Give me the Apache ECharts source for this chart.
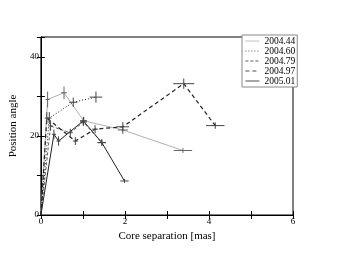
<!DOCTYPE html>
<html><head><meta charset="utf-8">
<script src="https://cdn.jsdelivr.net/npm/echarts@6/dist/echarts.min.js"></script>
<style>html,body{margin:0;padding:0;background:#fff}#c{width:339px;height:262px}</style>
</head><body><div id="c"></div>
<script>
// each point: [core separation, position angle, x error, y error]
const seriesNames = ['2004.44','2004.60','2004.79','2004.97','2005.01'];
const s200444 = [[0,0,0,0],[0.16,29.2,0.05,2.0],[0.55,30.9,0.07,1.6],[1.02,23.8,0.08,1.0],[1.95,21.5,0.12,1.0],[3.38,16.3,0.22,0.6]];
const s200460 = [[0,0,0,0],[0.20,24.5,0.05,1.5],[0.77,28.5,0.1,1.2],[1.31,29.8,0.15,1.4]];
const s200479 = [[0,0,0,0],[0.23,22.5,0.05,1.2],[0.70,20.8,0.06,1.0],[1.01,23.5,0.08,1.0],[1.45,18.3,0.1,0.8]];
const s200497 = [[0,0,0,0],[0.14,24.5,0.05,1.5],[0.82,18.7,0.06,1.0],[1.29,21.7,0.07,1.0],[1.95,22.3,0.15,1.2],[3.40,33.2,0.25,1.3],[4.15,22.6,0.22,0.8]];
const s200501 = [[0,0,0,0],[0.31,20.4,0.05,1.2],[0.42,18.7,0.05,1.2],[1.01,23.8,0.08,1.0],[1.45,18.3,0.1,0.8],[1.99,8.6,0.1,0.5]];
const xTicks = [0,2,4,6];
const yTicks = [0,20,40];

const allData = [s200444,s200460,s200479,s200497,s200501];
const styles = [
  {color:'#b0b0b0', width:1, type:'solid'},
  {color:'#222', width:1, type:[1,2]},
  {color:'#333', width:0.8, type:[3,2]},
  {color:'#222', width:1.2, type:[4,3]},
  {color:'#222', width:1, type:'solid'}
];
const errColors = ['#666','#444','#444','#444','#444'];

const series = [];
allData.forEach((d,i)=>{
  series.push({
    name: seriesNames[i], type:'line', data: d.map(p=>[p[0],p[1]]),
    symbol:'none', lineStyle: styles[i], itemStyle:{color:styles[i].color}, z:2
  });
  series.push({
    type:'custom', data: d.filter(p=>p[2]>0||p[3]>0), z:3,
    renderItem:(params, api)=>{
      const x=api.value(0), y=api.value(1), ex=api.value(2), ey=api.value(3);
      const l=api.coord([x-ex,y]), r=api.coord([x+ex,y]);
      const t=api.coord([x,y+ey]), b=api.coord([x,y-ey]);
      const st={stroke:errColors[i], lineWidth:1};
      return {type:'group', children:[
        {type:'line', shape:{x1:l[0],y1:l[1],x2:r[0],y2:r[1]}, style:st},
        {type:'line', shape:{x1:t[0],y1:t[1],x2:b[0],y2:b[1]}, style:st}
      ]};
    }
  });
});

const font = 'Liberation Serif';
const chart = echarts.init(document.getElementById('c'));
chart.setOption({
  animation:false,
  textStyle:{fontFamily:font},
  grid:{left:38, right:46, top:37, bottom:47, show:true, borderColor:'#000', borderWidth:1},
  legend:{
    data: seriesNames, orient:'vertical', left:242, top:35, itemGap:0, itemWidth:14, itemHeight:10,
    itemStyle:{opacity:0}, lineStyle:{width:0.8},
    backgroundColor:'#fff', borderColor:'#888', borderWidth:1, padding:[1,2,1,3],
    textStyle:{fontFamily:font, fontSize:9.5, color:'#000', padding:[0,0,0,0]}
  },
  xAxis:[{
    type:'value', min:0, max:6, interval:1,
    name:'Core separation [mas]', nameLocation:'middle', nameGap:12,
    nameTextStyle:{fontFamily:font, fontSize:11, color:'#000'},
    axisLine:{lineStyle:{color:'#000'}},
    axisTick:{inside:true, length:4, lineStyle:{color:'#000'}},
    axisLabel:{fontFamily:font, fontSize:9, color:'#000', margin:2,
      formatter:v=> xTicks.includes(v)? String(v):''},
    splitLine:{show:false}
  },{
    type:'value', min:0, max:6, interval:1, position:'top',
    axisLine:{lineStyle:{color:'#000'}},
    axisTick:{inside:true, length:4, lineStyle:{color:'#000'}},
    axisLabel:{show:false}, splitLine:{show:false}
  }],
  yAxis:[{
    type:'value', min:0, max:45, interval:10,
    name:'Position angle', nameLocation:'middle', nameGap:13,
    nameTextStyle:{fontFamily:font, fontSize:11, color:'#000'},
    axisLine:{show:true, lineStyle:{color:'#000'}},
    axisTick:{show:true, inside:true, length:4, lineStyle:{color:'#000'}},
    axisLabel:{fontFamily:font, fontSize:9, color:'#000', margin:2,
      formatter:v=> yTicks.includes(v)? String(v):''},
    splitLine:{show:false}
  },{
    type:'value', min:0, max:45, interval:10, position:'right',
    axisLine:{show:true, lineStyle:{color:'#000'}},
    axisTick:{show:true, inside:true, length:4, lineStyle:{color:'#000'}},
    axisLabel:{show:false}, splitLine:{show:false}
  }],
  series: series
});
</script></body></html>
